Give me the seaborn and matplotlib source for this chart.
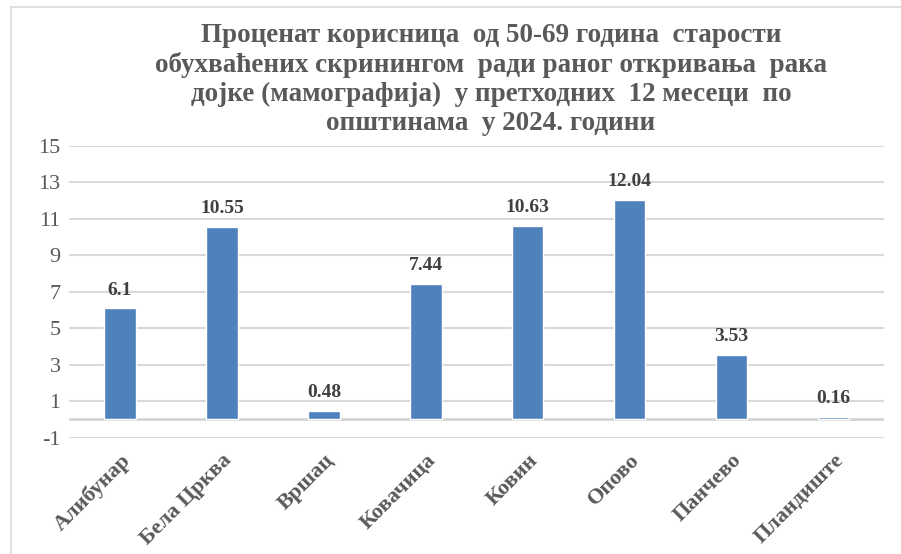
import numpy as np
import pandas as pd
import seaborn as sns
import matplotlib.pyplot as plt
from matplotlib.lines import Line2D

# Data
municipalities = ['Алибунар', 'Бела Црква', 'Вршац', 'Ковачица',
                  'Ковин', 'Опово', 'Панчево', 'Пландиште']
percent_values = [6.1, 10.55, 0.48, 7.44, 10.63, 12.04, 3.53, 0.16]
value_labels = ['6.1', '10.55', '0.48', '7.44', '10.63', '12.04', '3.53', '0.16']
y_ticks = [-1, 1, 3, 5, 7, 9, 11, 13, 15]

title = ('Проценат корисница  од 50-69 година  старости\n'
         'обухваћених скринингом  ради раног откривања  рака\n'
         'дојке (мамографија)  у претходних  12 месеци  по\n'
         'општинама  у 2024. години')

sns.set_theme(style='white')
plt.rcParams['font.family'] = ['Liberation Serif', 'DejaVu Serif']

text_color = '#595959'
bar_color = '#4F81BD'
grid_color = '#D9D9D9'

df = pd.DataFrame({'opstina': municipalities, 'procenat': percent_values})

fig = plt.figure(figsize=(9.01, 5.54), dpi=100)
ax = fig.add_axes([0.0766, 0.210, 0.905, 0.5265])

sns.barplot(data=df, x='opstina', y='procenat', color=bar_color,
            width=0.31, saturation=1, ax=ax, zorder=3)

ax.set_ylim(-1, 15)
ax.set_yticks(y_ticks)
ax.set_yticklabels([str(t) for t in y_ticks], fontsize=16, color=text_color)
for t in y_ticks:
    ax.axhline(t, color=grid_color, lw=1.5, zorder=1)
ax.axhline(0, color='#D0D0D0', lw=1.8, zorder=2)

ax.set_xlim(-0.5, len(municipalities) - 0.5)
ax.set_xticks(range(len(municipalities)))
ax.set_xticklabels(municipalities, rotation=45, ha='right',
                   rotation_mode='anchor', fontsize=16,
                   fontweight='bold', color=text_color)
ax.tick_params(axis='both', length=0, pad=6)
ax.tick_params(axis='x', pad=9)

for i, (v, lab) in enumerate(zip(percent_values, value_labels)):
    ax.annotate(lab, (i, v), xytext=(0, 7), textcoords='offset points',
                ha='center', va='bottom', fontsize=14, fontweight='bold',
                color='#404040')

ax.set_xlabel('')
ax.set_ylabel('')
sns.despine(ax=ax, left=True, bottom=True)

fig.text(0.545, 0.958, title, ha='center', va='top', fontsize=19.5,
         fontweight='bold', color=text_color, linespacing=1.2)

# chart area border (top and left edges are visible in the reference)
fig.add_artist(Line2D([11 / 901, 11 / 901], [0, 1 - 7 / 554],
                      transform=fig.transFigure, color=grid_color, lw=1.2))
fig.add_artist(Line2D([11 / 901, 1], [1 - 7 / 554, 1 - 7 / 554],
                      transform=fig.transFigure, color=grid_color, lw=1.2))

plt.savefig('out.png', dpi=100)
plt.close()
